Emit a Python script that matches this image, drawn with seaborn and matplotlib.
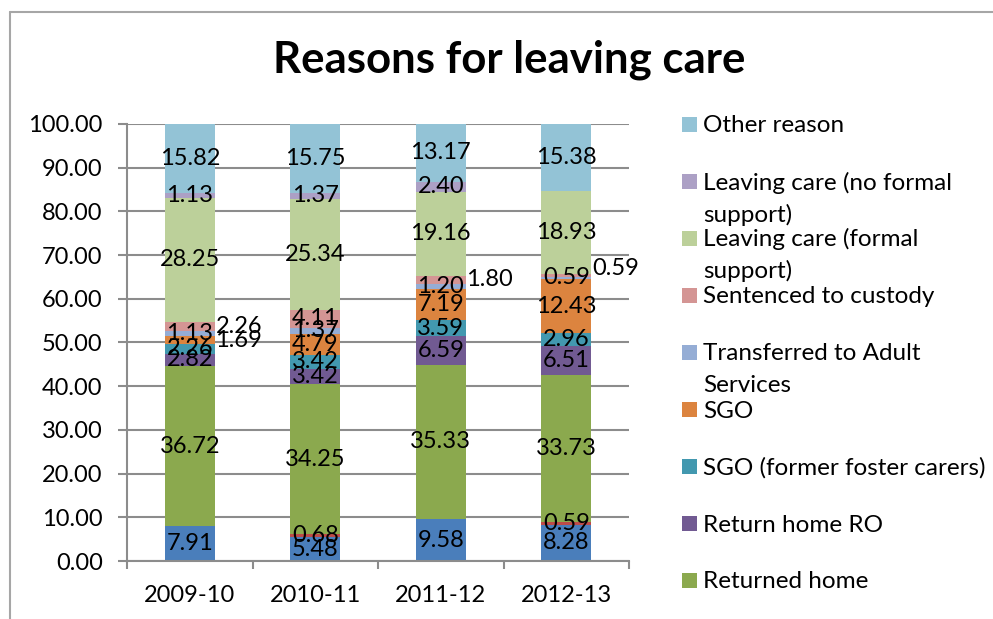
import matplotlib
matplotlib.use("Agg")
import numpy as np
import matplotlib.pyplot as plt
import seaborn as sns
from matplotlib.patches import Rectangle
from matplotlib.lines import Line2D
from matplotlib.ticker import FixedLocator, FormatStrFormatter

years = ["2009-10", "2010-11", "2011-12", "2012-13"]

# Percentage of care leavers by reason (stacked bottom to top)
adopted = [7.91, 5.48, 9.58, 8.28]
residence_order = [0.00, 0.68, 0.00, 0.59]
returned_home = [36.72, 34.25, 35.33, 33.73]
return_home_ro = [2.82, 3.42, 6.59, 6.51]
sgo_foster = [2.26, 3.42, 3.59, 2.96]
sgo = [1.69, 4.79, 7.19, 12.43]
transferred_adult = [1.13, 1.37, 1.20, 0.59]
custody = [2.26, 4.11, 1.80, 0.59]
leaving_formal = [28.25, 25.34, 19.16, 18.93]
leaving_no_formal = [1.13, 1.37, 2.40, 0.00]
other_reason = [15.82, 15.75, 13.17, 15.38]

series = [
    ("Adopted", adopted, "#4A7EBB"),
    ("Residence order", residence_order, "#BE4B48"),
    ("Returned home", returned_home, "#8BA94E"),
    ("Return home RO", return_home_ro, "#715A92"),
    ("SGO (former foster carers)", sgo_foster, "#4298AF"),
    ("SGO", sgo, "#DC843F"),
    ("Transferred to Adult Services", transferred_adult, "#95ADD5"),
    ("Sentenced to custody", custody, "#D49594"),
    ("Leaving care (formal support)", leaving_formal, "#BCD09A"),
    ("Leaving care (no formal support)", leaving_no_formal, "#ACA0C5"),
    ("Other reason", other_reason, "#93C3D6"),
]

# Legend entries, top to bottom, as wrapped lines
legend_entries = [
    ("Other reason", ["Other reason"]),
    ("Leaving care (no formal support)", ["Leaving care (no formal", "support)"]),
    ("Leaving care (formal support)", ["Leaving care (formal", "support)"]),
    ("Sentenced to custody", ["Sentenced to custody"]),
    ("Transferred to Adult Services", ["Transferred to Adult", "Services"]),
    ("SGO", ["SGO"]),
    ("SGO (former foster carers)", ["SGO (former foster carers)"]),
    ("Return home RO", ["Return home RO"]),
    ("Returned home", ["Returned home"]),
]

# Labels placed beside the bar instead of inside it
outside_labels = {("Sentenced to custody", 0), ("SGO", 0),
                  ("Sentenced to custody", 2), ("Sentenced to custody", 3)}
label_dy = {("Sentenced to custody", 3): 1.5}

sns.set_theme(style="white")
plt.rcParams["font.family"] = ["Lato", "DejaVu Sans"]

W, H = 993, 619
fig = plt.figure(figsize=(W / 100, H / 100), dpi=100)
ax = fig.add_axes([127 / W, (H - 561) / H, (629 - 127) / W, (561 - 124) / H])

values = np.array([s[1] for s in series])
tops = np.cumsum(values, axis=0)
bottoms = tops - values
colors = {name: c for name, _, c in series}

bar_w = 0.4
# Draw cumulative totals from the top down so each layer covers the one above it
for i in range(len(series) - 1, -1, -1):
    sns.barplot(x=years, y=tops[i], order=years, color=series[i][2],
                saturation=1, width=bar_w, ax=ax, linewidth=0, zorder=2)

txt_size = 17
leg_size = 17.5
for i, (name, vals, _) in enumerate(series):
    for j, v in enumerate(vals):
        if v <= 0:
            continue
        yc = bottoms[i][j] + v / 2 + label_dy.get((name, j), 0)
        if (name, j) in outside_labels:
            ax.text(j + bar_w / 2 + 0.005, yc, f"{v:.2f}", ha="left", va="center",
                    fontsize=txt_size, color="black", zorder=5)
        else:
            ax.text(j, yc, f"{v:.2f}", ha="center", va="center",
                    fontsize=txt_size, color="black", zorder=5)

ax.set_xlim(-0.5, 3.5)
ax.set_ylim(0, 100)
ax.set_xlabel("")
ax.set_ylabel("")
ax.yaxis.set_major_locator(FixedLocator(np.arange(0, 101, 10)))
ax.yaxis.set_major_formatter(FormatStrFormatter("%.2f"))
ax.set_axisbelow(True)
grid_c = "#8C8C8C"
ax.yaxis.grid(True, color=grid_c, linewidth=1.5, zorder=0)
ax.xaxis.grid(False)
for sp in ["top", "right"]:
    ax.spines[sp].set_visible(False)
for sp in ["left", "bottom"]:
    ax.spines[sp].set_color(grid_c)
    ax.spines[sp].set_linewidth(1.5)

ax.set_xticks(range(len(years)))
ax.set_xticklabels(years)
ax.xaxis.set_minor_locator(FixedLocator(np.arange(-0.5, 4, 1)))
ax.tick_params(axis="x", which="major", length=0, pad=17, labelsize=txt_size,
               colors="black")
ax.tick_params(axis="x", which="minor", length=6, width=1.5, color=grid_c,
               direction="out", bottom=True)
ax.tick_params(axis="y", which="major", length=6.5, width=1.5, color=grid_c,
               direction="out", left=True, pad=11, labelsize=txt_size,
               labelcolor="black")

fig.text(509 / W, (H - 72) / H, "Reasons for leaving care", ha="center",
         va="baseline", fontsize=31.5, fontweight="bold", color="black")

# Chart frame
frame_c = "#A6A6A6"
fig.add_artist(Line2D([10 / W, 10 / W], [0, (H - 12) / H], color=frame_c,
                      linewidth=1.5, transform=fig.transFigure))
fig.add_artist(Line2D([10 / W, 1], [(H - 12) / H, (H - 12) / H], color=frame_c,
                      linewidth=1.5, transform=fig.transFigure))

# Legend
y0, step, line_gap = 124, 57, 32
for k, (name, lines) in enumerate(legend_entries):
    yc = y0 + k * step
    fig.add_artist(Rectangle((682 / W, (H - yc - 7.5) / H), 15 / W, 15 / H,
                             facecolor=colors[name], edgecolor="none",
                             transform=fig.transFigure))
    for li, line in enumerate(lines):
        fig.text(703 / W, (H - (yc + li * line_gap) - 8.5) / H, line,
                 ha="left", va="baseline", fontsize=leg_size, color="black")

fig.savefig("out.png", dpi=100)
